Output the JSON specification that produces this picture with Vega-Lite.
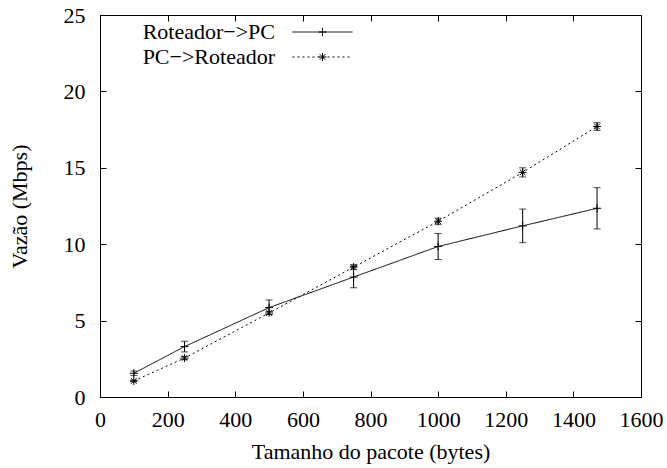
{
  "$schema": "https://vega.github.io/schema/vega-lite/v6.json",
  "width": 541,
  "height": 382,
  "autosize": {"type": "none"},
  "padding": {"left": 100, "top": 15, "right": 26, "bottom": 71},
  "background": "white",
  "config": {
    "view": {"stroke": "black", "strokeWidth": 1},
    "font": "Liberation Serif, Times New Roman, Times, DejaVu Serif, serif",
    "axis": {
      "grid": false,
      "domainColor": "black",
      "domainWidth": 1,
      "tickColor": "black",
      "tickWidth": 1,
      "tickSize": -6,
      "labelColor": "black",
      "titleColor": "black",
      "labelFont": "Liberation Serif, Times New Roman, Times, DejaVu Serif, serif",
      "titleFont": "Liberation Serif, Times New Roman, Times, DejaVu Serif, serif",
      "labelFontSize": 22,
      "titleFontSize": 22,
      "titleFontWeight": "normal"
    },
    "legend": {
      "labelFont": "Liberation Serif, Times New Roman, Times, DejaVu Serif, serif",
      "labelFontSize": 22,
      "labelColor": "black"
    }
  },
  "data": {
    "values": [
      {"series": "Roteador−>PC", "x": 100, "y": 1.55, "lo": 1.4, "hi": 1.7},
      {"series": "Roteador−>PC", "x": 250, "y": 3.3, "lo": 2.95, "hi": 3.65},
      {"series": "Roteador−>PC", "x": 500, "y": 5.85, "lo": 5.4, "hi": 6.35},
      {"series": "Roteador−>PC", "x": 750, "y": 7.85, "lo": 7.15, "hi": 8.55},
      {"series": "Roteador−>PC", "x": 1000, "y": 9.85, "lo": 9.0, "hi": 10.7},
      {"series": "Roteador−>PC", "x": 1250, "y": 11.2, "lo": 10.1, "hi": 12.3},
      {"series": "Roteador−>PC", "x": 1470, "y": 12.35, "lo": 11.0, "hi": 13.7},
      {"series": "PC−>Roteador", "x": 100, "y": 1.05, "lo": 1.0, "hi": 1.1},
      {"series": "PC−>Roteador", "x": 250, "y": 2.55, "lo": 2.45, "hi": 2.65},
      {"series": "PC−>Roteador", "x": 500, "y": 5.5, "lo": 5.4, "hi": 5.6},
      {"series": "PC−>Roteador", "x": 750, "y": 8.5, "lo": 8.35, "hi": 8.65},
      {"series": "PC−>Roteador", "x": 1000, "y": 11.5, "lo": 11.3, "hi": 11.7},
      {"series": "PC−>Roteador", "x": 1250, "y": 14.7, "lo": 14.4, "hi": 15.0},
      {"series": "PC−>Roteador", "x": 1470, "y": 17.7, "lo": 17.45, "hi": 17.95}
    ]
  },
  "layer": [
    {
      "encoding": {
        "x": {
          "field": "x", "type": "quantitative",
          "scale": {"domain": [0, 1600], "nice": false, "zero": false},
          "axis": {"values": [0, 200, 400, 600, 800, 1000, 1200, 1400, 1600], "format": "d", "title": "Tamanho do pacote (bytes)", "labelPadding": 18, "titlePadding": 11, "labelFlush": false}
        },
        "y": {
          "field": "y", "type": "quantitative",
          "scale": {"domain": [0, 25], "nice": false, "zero": false},
          "axis": {"values": [0, 5, 10, 15, 20, 25], "format": "d", "title": "Vazão (Mbps)", "labelPadding": 21, "titlePadding": 32, "labelFlush": false}
        }
      },
      "layer": [
        {
          "mark": {"type": "rule", "color": "black", "strokeWidth": 1},
          "encoding": {"y": {"field": "lo", "type": "quantitative"}, "y2": {"field": "hi"}}
        },
        {
          "mark": {"type": "tick", "orient": "horizontal", "size": 7, "thickness": 1, "color": "black"},
          "encoding": {"y": {"field": "lo", "type": "quantitative"}}
        },
        {
          "mark": {"type": "tick", "orient": "horizontal", "size": 7, "thickness": 1, "color": "black"},
          "encoding": {"y": {"field": "hi", "type": "quantitative"}}
        },
        {
          "mark": {"type": "line", "color": "black", "strokeWidth": 1},
          "encoding": {
            "strokeDash": {
              "field": "series", "type": "nominal",
              "scale": {"domain": ["Roteador−>PC", "PC−>Roteador"], "range": [[1, 0], [2, 3]]},
              "legend": {
                "title": null, "orient": "none", "legendX": 32, "legendY": 6, "padding": 0,
                "direction": "vertical",
                "symbolType": "M-6,0H6", "symbolSize": 100, "symbolStrokeWidth": 1, "symbolStrokeColor": "black",
                "labelAlign": "right", "labelOffset": -58.5, "symbolOffset": 179.5,
                "rowPadding": 3, "labelLimit": 300
              }
            }
          }
        },
        {
          "mark": {"type": "point", "filled": false, "color": "black", "strokeWidth": 1, "size": 100, "opacity": 1},
          "encoding": {
            "shape": {
              "field": "series", "type": "nominal", "sort": "descending",
              "scale": {"range": ["M-0.8,0H0.8M0,-0.8V0.8", "M-0.8,0H0.8M0,-0.8V0.8M-0.56,-0.56L0.56,0.56M-0.56,0.56L0.56,-0.56"]},
              "legend": {
                "title": null, "orient": "none", "legendX": 32, "legendY": 6, "padding": 0,
                "direction": "vertical",
                "symbolSize": 100, "symbolStrokeWidth": 1, "symbolStrokeColor": "black", "symbolFillColor": "transparent", "symbolOpacity": 1,
                "labelOpacity": 0, "labelAlign": "right", "labelOffset": -58.5, "symbolOffset": 179.5,
                "rowPadding": 3, "labelLimit": 300
              }
            }
          }
        }
      ]
    },
    {
      "mark": {"type": "point", "opacity": 0},
      "encoding": {
        "x": {
          "field": "x", "type": "quantitative",
          "scale": {"domain": [0, 1600], "nice": false, "zero": false},
          "axis": {"orient": "top", "values": [0, 200, 400, 600, 800, 1000, 1200, 1400, 1600], "labels": false, "title": null}
        },
        "y": {
          "field": "y", "type": "quantitative",
          "scale": {"domain": [0, 25], "nice": false, "zero": false},
          "axis": {"orient": "right", "values": [0, 5, 10, 15, 20, 25], "labels": false, "title": null}
        }
      }
    }
  ],
  "resolve": {"axis": {"x": "independent", "y": "independent"}}
}
